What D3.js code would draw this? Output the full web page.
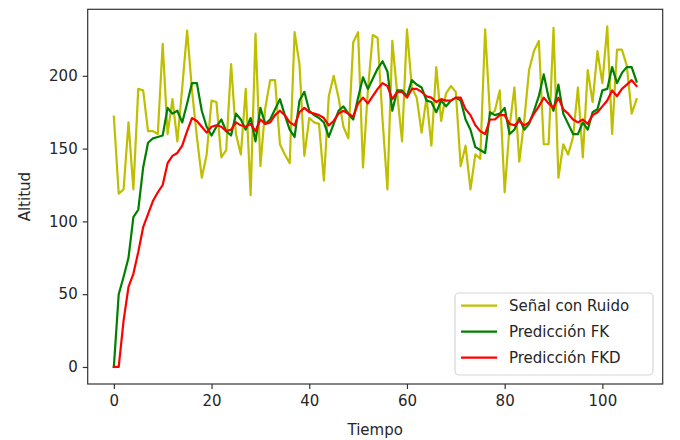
<!DOCTYPE html>
<html>
<head>
<meta charset="utf-8">
<script src="https://cdn.jsdelivr.net/npm/d3@7"></script>
<style>
  body { margin: 0; background: #fff; }
  svg { display: block; }
  text { font-family: "DejaVu Sans", sans-serif; fill: #262626; }
</style>
</head>
<body>
<svg id="chart" width="680" height="440"></svg>
<script>
const noisy = [172,119,122,168,122,191,190,162,162,160,222,160,184,155,192,231,190,158,130,146,
  183,182,144,149,208,160,146,191,118,229,138,178,197,197,153,146,140,230,208,145,
  171,168,167,128,186,200,185,165,157,223,230,137,190,228,226,170,122,224,188,155,
  232,192,185,161,185,152,206,169,188,193,189,138,152,122,146,143,232,173,176,190,
  120,165,192,141,169,204,217,224,153,153,233,130,153,146,158,192,144,204,182,217,
  195,234,160,218,218,207,174,184];
const predFK = [0,50,62,75,103,108,137,154,157,158,159,178,174,176,168,181,195,195,176,165,
  159,165,170,162,159,174,170,163,171,155,178,167,170,177,184,173,163,158,183,189,
  176,173,171,168,158,167,176,179,174,170,185,199,191,198,205,210,203,176,190,190,
  186,197,194,192,183,182,175,183,179,183,185,183,170,163,151,149,147,175,173,174,
  178,160,163,171,163,167,176,186,201,185,176,194,174,167,160,160,168,163,175,177,
  190,191,206,195,202,206,206,196];
const predFKD = [0,0,32,55,64,79,96,105,114,120,125,140,145,147,152,162,171,169,165,161,
  165,166,165,162,163,168,166,165,167,162,170,167,168,173,176,173,168,166,175,178,
  175,174,173,171,166,169,174,176,174,172,181,185,181,186,191,195,193,184,189,189,
  185,191,191,189,186,185,182,184,183,183,185,185,177,173,166,162,160,170,170,173,
  173,167,166,169,166,168,174,179,185,181,178,185,177,174,170,168,170,167,173,175,
  179,183,190,186,191,194,197,193];
const xTicks = [0,20,40,60,80,100];
const yTicks = [0,50,100,150,200];
const seriesNames = ["Señal con Ruido","Predicción FK","Predicción FKD"];
const seriesColors = ["#bfbf00","#008000","#ff0000"];

const svg = d3.select("#chart");
const L = 87.7, R = 662.7, T = 9.3, B = 384;
const n = noisy.length;
const x = d3.scaleLinear().domain([-5.35, (n-1) + 5.35]).range([L, R]);
const allVals = noisy.concat(predFK, predFKD);
const yMin = d3.min(allVals), yMax = d3.max(allVals);
const pad = (yMax - yMin) * 0.05;
const y = d3.scaleLinear().domain([yMin - pad, yMax + pad]).range([B, T]);

svg.append("rect").attr("width",680).attr("height",440).attr("fill","#fff");

const line = d3.line().x((d,i)=>x(i)).y(d=>y(d));
[noisy, predFK, predFKD].forEach((s,k)=>{
  svg.append("path").datum(s).attr("d", line)
    .attr("fill","none").attr("stroke", seriesColors[k])
    .attr("stroke-width", 2.2).attr("stroke-linejoin","round").attr("stroke-linecap","square");
});

// frame
svg.append("rect").attr("x",L).attr("y",T).attr("width",R-L).attr("height",B-T)
  .attr("fill","none").attr("stroke","#333").attr("stroke-width",1.2);

const xAxis = svg.append("g").attr("transform",`translate(0,${B})`)
  .call(d3.axisBottom(x).tickValues(xTicks).tickSize(5).tickPadding(6).tickFormat(d3.format("d")));
const yAxis = svg.append("g").attr("transform",`translate(${L},0)`)
  .call(d3.axisLeft(y).tickValues(yTicks).tickSize(5).tickPadding(5).tickFormat(d3.format("d")));
[xAxis,yAxis].forEach(g=>{
  g.select(".domain").remove();
  g.selectAll(".tick line").attr("stroke","#333").attr("stroke-width",1.2);
  g.selectAll(".tick text").attr("font-size","15px").attr("font-family","DejaVu Sans, sans-serif").attr("fill","#262626");
});

svg.append("text").attr("x",(L+R)/2).attr("y",435).attr("text-anchor","middle")
  .attr("font-size","15px").text("Tiempo");
svg.append("text").attr("transform",`translate(30,${(T+B)/2}) rotate(-90)`)
  .attr("text-anchor","middle").attr("font-size","15px").text("Altitud");

// legend
const lg = svg.append("g");
lg.append("rect").attr("x",455).attr("y",293).attr("width",198).attr("height",82)
  .attr("rx",4).attr("fill","#fff").attr("fill-opacity",0.8).attr("stroke","#d6d6d6").attr("stroke-width",1.2);
seriesNames.forEach((name,k)=>{
  const yy = 305.7 + k*26;
  lg.append("line").attr("x1",461).attr("x2",497).attr("y1",yy).attr("y2",yy)
    .attr("stroke",seriesColors[k]).attr("stroke-width",2.2);
  lg.append("text").attr("x",509).attr("y",yy).attr("dy","0.35em")
    .attr("font-size","15px").text(name);
});
</script>
</body>
</html>
